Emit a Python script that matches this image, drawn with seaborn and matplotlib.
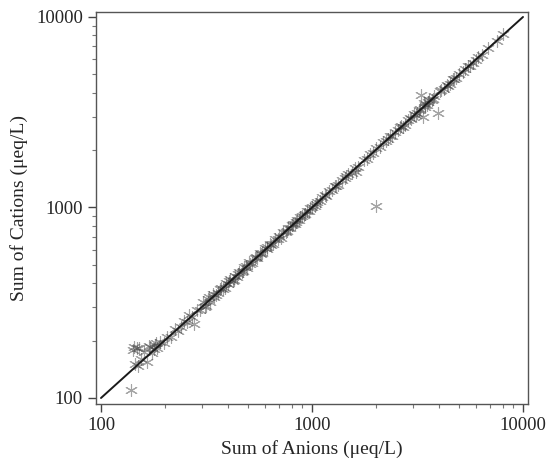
import matplotlib
matplotlib.use("Agg")
import matplotlib.pyplot as plt
import matplotlib.ticker as mticker
import seaborn as sns
import pandas as pd

anions = [139, 142, 145, 148, 150, 155, 160, 166, 170, 175, 180, 185, 190, 198, 205, 215, 225, 232,
          240, 248, 255, 262, 270, 277, 285, 295, 305, 315, 322, 330, 340, 350, 360, 372, 380, 390,
          400, 410, 420, 430, 440, 452, 465, 478, 490, 505, 520, 535, 550, 565, 580, 600, 615, 630,
          650, 670, 690, 710, 730, 750, 770, 790, 810, 830, 850, 870, 895, 920, 945, 970, 1000, 1030,
          1060, 1090, 1120, 1160, 1200, 1240, 1280, 1330, 1380, 1430, 1480, 1540, 1600, 1620, 1650,
          1760, 1820, 1880, 1950, 2000, 2020, 2100, 2180, 2250, 2330, 2400, 2480, 2560, 2650, 2750,
          2850, 2950, 3050, 3150, 3250, 3300, 3350, 3420, 3500, 3600, 3700, 3800, 3950, 4050, 4200,
          4350, 4500, 4650, 4800, 5000, 5200, 5500, 5800, 6100, 6400, 6800, 7500, 8000,
          143, 152, 168, 178, 182, 310, 325, 345, 365, 385, 405, 425, 445, 470, 485, 510, 540, 575,
          610, 640, 700, 760, 800, 840, 880, 930, 980, 1050, 1150, 1300, 1450, 2300, 2600, 2700,
          2900, 3100, 3200, 3400, 3450, 3550, 3750, 4100, 4400, 4700, 5300, 5600, 6000]
cations = [110, 178, 150, 183, 148, 160, 175, 155, 186, 172, 190, 183, 196, 194, 210, 208, 230, 226,
           236, 255, 250, 272, 266, 245, 290, 288, 318, 305, 332, 318, 350, 346, 355, 380, 372, 400,
           395, 420, 412, 436, 432, 460, 458, 485, 482, 515, 510, 545, 540, 575, 574, 612, 605, 640,
           644, 680, 682, 690, 742, 745, 785, 782, 822, 818, 862, 860, 905, 915, 958, 960, 1010, 1018,
           1075, 1080, 1135, 1150, 1215, 1228, 1290, 1315, 1395, 1420, 1500, 1520, 1620, 1530, 1640,
           1780, 1800, 1900, 1930, 1020, 2040, 2080, 2200, 2230, 2360, 2380, 2500, 2540, 2690, 2720,
           2880, 2920, 3100, 3120, 3300, 3900, 3000, 3450, 3460, 3650, 3680, 3850, 3150, 4080, 4170,
           4400, 4470, 4700, 4760, 5050, 5150, 5560, 5750, 6200, 6350, 6900, 7450, 8100,
           185, 182, 188, 180, 194, 300, 338, 340, 372, 378, 412, 418, 450, 465, 492, 505, 548, 568,
           620, 632, 710, 752, 812, 835, 892, 925, 992, 1040, 1165, 1290, 1470, 2280, 2640, 2660,
           2950, 3060, 3250, 3550, 3380, 3600, 3700, 4150, 4350, 4750, 5350, 5550, 5950]
line_x = [100, 10000]
line_y = [100, 10000]
x_ticks = [100, 1000, 10000]
y_ticks = [100, 1000, 10000]

df = pd.DataFrame({"anions": anions, "cations": cations})
ref = pd.DataFrame({"x": line_x, "y": line_y})

sns.set_style("white")
plt.rcParams["font.family"] = ["Liberation Serif", "DejaVu Serif"]

fig = plt.figure(figsize=(5.5, 4.67), dpi=100)
ax = fig.add_axes([96/550, 1-404/467, 432/550, 392/467])

sns.scatterplot(data=df, x="anions", y="cations", ax=ax, marker=(6, 2, 0), s=75,
                color="#4a4a4a", alpha=0.5, linewidth=0.8, zorder=2)
sns.lineplot(data=ref, x="x", y="y", ax=ax, color="#1a1a1a", linewidth=1.4, zorder=3)

ax.set_xscale("log")
ax.set_yscale("log")
ax.set_xlim(94.7, 10560)
ax.set_ylim(93, 10620)
ax.set_xticks(x_ticks)
ax.set_yticks(y_ticks)
ax.xaxis.set_major_formatter(mticker.FuncFormatter(lambda v, p: f"{int(round(v))}"))
ax.yaxis.set_major_formatter(mticker.FuncFormatter(lambda v, p: f"{int(round(v))}"))
ax.xaxis.set_minor_locator(mticker.LogLocator(base=10, subs=range(2, 10)))
ax.yaxis.set_minor_locator(mticker.LogLocator(base=10, subs=range(2, 10)))
ax.xaxis.set_minor_formatter(mticker.NullFormatter())
ax.yaxis.set_minor_formatter(mticker.NullFormatter())
ax.tick_params(axis="both", which="major", direction="out", length=6, width=1,
               color="#444444", labelsize=13.5, bottom=True, left=True)
ax.tick_params(axis="both", which="minor", direction="out", length=3, width=0.8,
               color="#777777", bottom=True, left=True)
for sp in ax.spines.values():
    sp.set_color("#555555")
    sp.set_linewidth(1.0)

ax.set_xlabel("Sum of Anions (μeq/L)", fontsize=14, labelpad=4)
ax.set_ylabel("Sum of Cations (μeq/L)", fontsize=14, labelpad=6)

fig.savefig("out.png", dpi=100)
